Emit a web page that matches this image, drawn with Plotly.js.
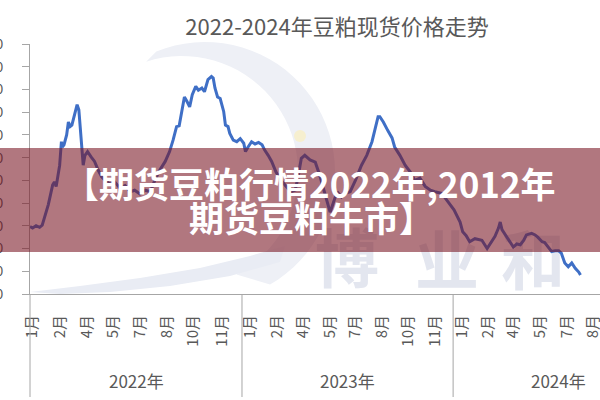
<!DOCTYPE html>
<html>
<head>
<meta charset="utf-8">
<script src="https://cdn.plot.ly/plotly-3.0.1.min.js"></script>
<style>html,body{margin:0;padding:0;background:#fff;}#chart{width:600px;height:400px;}</style>
</head>
<body>
<div id="chart"></div>
<script>
// trading-day index (from first trading day of 2022) and spot price (yuan/ton)
const dayIdx = [0,3,7,11,14,16,21,26,28,30,34,36,37,39,42,44,46,48,51,54,56,59,61,63,66,70,74,78,82,86,92,97,103,109,115,120,126,132,138,143,149,155,160,164,168,171,174,177,180,183,186,190,193,197,200,203,204,208,210,212,215,218,222,224,227,229,233,237,241,245,247,250,254,258,262,266,269,273,277,282,288,293,299,304,307,311,315,321,327,332,338,344,347,352,357,361,367,373,380,386,392,397,399,401,405,410,415,418,424,430,436,441,447,453,459,464,472,479,486,493,496,500,504,510,518,524,528,533,537,539,541,545,549,554,558,562,566,569,575,579,582,587,590,594,598,602,606,609,613,617,621,625,629,631];
const price = [3590,3570,3600,3580,3610,3680,3880,4140,4180,4120,4400,4710,4640,4670,4800,4970,4910,4930,5060,5200,5130,4620,4400,4530,4580,4510,4450,4340,4250,4200,4150,4180,4100,4130,4050,4070,4020,4070,4050,4200,4340,4450,4580,4730,4910,4920,5110,5300,5240,5170,5330,5440,5390,5420,5370,5500,5530,5570,5550,5420,5300,5280,5110,4930,4910,4820,4730,4710,4750,4690,4580,4640,4710,4680,4700,4670,4600,4530,4450,4310,4200,4130,4050,4070,4230,4490,4530,4470,4440,4270,4010,3780,3880,4050,3980,4030,4050,4200,4400,4530,4710,4970,5040,5040,4970,4860,4760,4640,4530,4400,4310,4200,4230,4120,4070,4050,4030,3920,3810,3650,3520,3470,3390,3430,3410,3300,3370,3460,3570,3650,3550,3480,3410,3320,3360,3350,3410,3480,3500,3480,3450,3390,3380,3320,3260,3270,3270,3240,3110,3060,3110,3040,2990,2950];

// month labels (multi-level category axis) and the day index they sit on
const monthLabels = ["1月","2月","4月","5月","7月","8月","10月","11月",
                     "1月","2月","4月","5月","7月","8月","10月","11月",
                     "1月","2月","4月","5月","7月","8月"];
const monthLabelDay = [3,34,65,95,126,157,187,220, 252,283,313,344,373,404,433,464, 495,525,554,585,616,645];

// years and their day-index spans
const years = ["2022年","2023年","2024年"];
const yearStart = [0,243,485];
const yearEnd = [243,485,727];

const yTicks = [2700,3000,3300,3600,3900,4200,4500,4800,5100,5400,5700,6000];

const titleText = "2022-2024年豆粕现货价格走势";
const bannerLine1 = "【期货豆粕行情2022年,2012年";
const bannerLine2 = "期货豆粕牛市】";
const watermarkChars = ["博","业","和"];

const FONT = "Noto Sans CJK SC, Noto Sans, sans-serif";
const GRAY = "#595959";
const AXIS = "#a6a6a6";

// plot area in pixels: left 30, right 600, top 44, bottom 294
const PL = 30, PR = 600, PT = 44, PB = 294;
const pxX = px => (px - PL) / (PR - PL);
const pxY = py => (PB - py) / (PB - PT);

// decorative watermark outline (logo crescent), built in pixel space
function arcPts(cx, cy, r, a0, a1, n) {
  const pts = [];
  for (let k = 0; k <= n; k++) {
    const a = (a0 + (a1 - a0) * k / n) * Math.PI / 180;
    pts.push([cx + r * Math.cos(a), cy + r * Math.sin(a)]);
  }
  return pts;
}
function pathFrom(pts) {
  return pts.map((p, k) => (k ? 'L' : 'M') + pxX(p[0]).toFixed(4) + ',' + pxY(p[1]).toFixed(4)).join(' ') + ' Z';
}
const outer = arcPts(205, 172, 130, -112, 60, 40);
const inner = arcPts(182, 172, 116, 62, -108, 40);
const crescentPath = pathFrom(outer.concat(inner));
const swoosh = [[30,292],[80,286],[140,278],[200,268],[250,256],[285,246],[280,262],[230,276],[170,286],[110,292],[60,294]];
const swooshPath = pathFrom(swoosh);

const shapes = [];
shapes.push({type:'path', layer:'below', xref:'paper', yref:'paper', path:crescentPath, fillcolor:'#eef0f6', line:{width:0}});
shapes.push({type:'path', layer:'below', xref:'paper', yref:'paper', path:swooshPath, fillcolor:'#e9ecf4', line:{width:0}});
shapes.push({type:'circle', layer:'below', xref:'paper', yref:'paper', x0:pxX(294), x1:pxX(306), y0:pxY(142), y1:pxY(130), fillcolor:'#f6efcf', line:{width:0}});
// left axis extension and year dividers down through the label area
shapes.push({type:'line', xref:'paper', yref:'paper', x0:0, x1:0, y0:0, y1:pxY(397), line:{color:AXIS, width:1}});
for (let i = 1; i < yearStart.length; i++) {
  shapes.push({type:'line', xref:'x', yref:'paper', x0:yearStart[i], x1:yearStart[i], y0:0, y1:pxY(397), line:{color:AXIS, width:1}});
}
// watermark characters (below data)
const wmPos = [[347,264],[447,266],[533,266]];
watermarkChars.forEach((c, i) => {
  shapes.push({type:'rect', layer:'below', xref:'paper', yref:'paper',
    x0:pxX(wmPos[i][0]-40), x1:pxX(wmPos[i][0]+40), y0:pxY(wmPos[i][1]+35), y1:pxY(wmPos[i][1]-35),
    fillcolor:'rgba(0,0,0,0)', line:{width:0},
    label:{text:c, font:{family:FONT, size:64, color:'#e3e6ef', weight:700}, textposition:'middle center'}});
});
// red translucent banner
shapes.push({type:'rect', layer:'above', xref:'paper', yref:'paper',
  x0:pxX(0), x1:pxX(600), y0:pxY(252), y1:pxY(148),
  fillcolor:'rgba(120,20,35,0.58)', line:{width:0}});

const annotations = [];
years.forEach((y, i) => {
  annotations.push({text:y, xref:'x', yref:'paper', x:(yearStart[i]+yearEnd[i])/2, y:pxY(381),
    showarrow:false, xanchor:'center', yanchor:'middle', font:{family:FONT, size:17, color:GRAY}});
});
annotations.push({text:bannerLine1, xref:'paper', yref:'paper', x:pxX(310), y:pxY(182),
  showarrow:false, xanchor:'center', yanchor:'middle', font:{family:FONT, size:35, color:'#ffffff', weight:700}});
annotations.push({text:bannerLine2, xref:'paper', yref:'paper', x:pxX(311), y:pxY(216),
  showarrow:false, xanchor:'center', yanchor:'middle', font:{family:FONT, size:35, color:'#ffffff', weight:700}});

const trace = {
  type:'scatter', mode:'lines', x:dayIdx, y:price,
  line:{color:'#3F6FC6', width:3}, hoverinfo:'skip'
};

const layout = {
  width:600, height:400,
  margin:{l:PL, r:600-PR, t:PT, b:400-PB, pad:0},
  paper_bgcolor:'#ffffff', plot_bgcolor:'rgba(0,0,0,0)',
  showlegend:false,
  title:{text:titleText, xref:'container', yref:'container', x:337/600, y:1-27/400,
    xanchor:'center', yanchor:'middle', font:{family:FONT, size:22, color:GRAY}},
  xaxis:{range:[0,(PR-PL)/0.8724], showgrid:false, zeroline:false, showline:true, linecolor:AXIS, linewidth:1,
    ticks:'', tickmode:'array', tickvals:monthLabelDay, ticktext:monthLabels, tickangle:-90,
    tickfont:{family:FONT, size:15, color:GRAY}, ticklabelstandoff:14, ticklabeloverflow:'allow', fixedrange:true},
  yaxis:{range:[yTicks[0], yTicks[yTicks.length-1]], showgrid:false, zeroline:false, showline:true, linecolor:AXIS, linewidth:1,
    ticks:'outside', ticklen:7, tickcolor:AXIS, tickmode:'array', tickvals:yTicks, ticktext:yTicks.map(String),
    tickfont:{family:FONT, size:14, color:GRAY}, ticklabelstandoff:16, ticklabeloverflow:'allow', fixedrange:true},
  shapes:shapes, annotations:annotations
};

Plotly.newPlot('chart', [trace], layout, {staticPlot:true, displayModeBar:false});
</script>
</body>
</html>
